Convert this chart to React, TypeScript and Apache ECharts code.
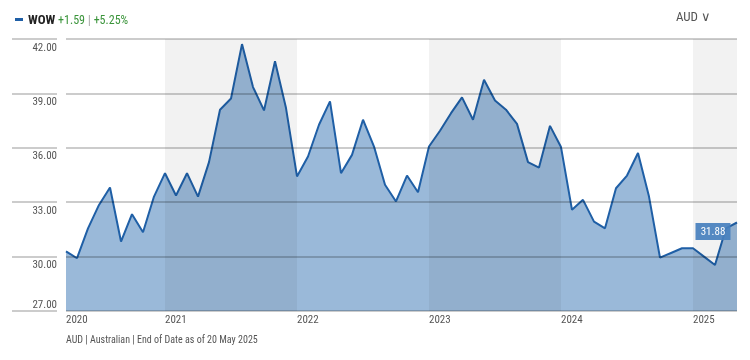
import React, { useEffect, useRef } from "react";
import * as echarts from "echarts";

const ticker = "WOW";
const change = "+1.59";
const changePct = "+5.25%";
const currency = "AUD ∨";
const footnote = "AUD | Australian | End of Date as of 20 May 2025";
const lastLabel = "31.88";

const prices2020 = [30.29, 29.91, 31.56, 32.85, 33.81, 30.83, 32.34, 31.34, 33.31];
const prices2021 = [34.6, 33.37, 34.6, 33.31, 35.21, 38.1, 38.72, 41.72, 39.35, 38.06, 40.77, 38.19];
const prices2022 = [34.42, 35.52, 37.27, 38.56, 34.6, 35.61, 37.55, 36.07, 33.96, 33.04, 34.47, 33.55];
const prices2023 = [36.07, 36.94, 37.91, 38.78, 37.55, 39.75, 38.61, 38.1, 37.32, 35.21, 34.91, 37.21];
const prices2024 = [36.04, 32.58, 33.13, 31.93, 31.56, 33.77, 34.47, 35.71, 33.31, 29.94, 30.2, 30.46];
const prices2025 = [30.46, 30.0, 29.54, 31.56, 31.88];

const prices = [...prices2020, ...prices2021, ...prices2022, ...prices2023, ...prices2024, ...prices2025];

// monthly categories starting April 2020
const months = prices.map((_, i) => {
  const m = 3 + i;
  const y = 2020 + Math.floor(m / 12);
  const mm = (m % 12) + 1;
  return `${y}-${String(mm).padStart(2, "0")}`;
});

const yMin = 27;
const yMax = 42;
const yStep = 3;

const shadedRanges: [string, string][] = [
  ["2021-01", "2022-01"],
  ["2023-01", "2024-01"],
  ["2025-01", "2025-05"],
];

const FONT = '"Liberation Sans Narrow", "Roboto Condensed", "Arial Narrow", Roboto, sans-serif';

export default function App() {
  const ref = useRef<HTMLDivElement>(null);
  useEffect(() => {
    if (!ref.current) return;
    const chart = echarts.init(ref.current, undefined, { renderer: "svg" });
    const gridLine = { show: true, lineStyle: { color: "rgba(0,0,0,0.27)", width: 1.5 } };
    const lastIdx = prices.length - 1;
    chart.setOption({
      animation: false,
      textStyle: { fontFamily: FONT },
      legend: {
        data: [ticker],
        left: 10,
        top: 8,
        icon: "rect",
        itemWidth: 8,
        itemHeight: 3,
        selectedMode: false,
        formatter: (n: string) => `{n|${n}} {g|${change}} {s||} {g|${changePct}}`,
        textStyle: {
          fontFamily: FONT,
          rich: {
            n: { fontSize: 13, color: "#222", fontWeight: "bold", fontFamily: FONT },
            g: { fontSize: 12, color: "#3a943a", fontFamily: FONT },
            s: { fontSize: 13, color: "#aaa", fontFamily: FONT },
          },
        },
      },
      grid: [
        { left: 66, right: 13, top: 39, bottom: 49 },
        { left: 12, width: 45, top: 39, bottom: 49 },
      ],
      xAxis: [
        {
          type: "category",
          data: months,
          boundaryGap: false,
          axisLine: { show: false },
          axisTick: { show: false },
          splitLine: { show: false },
          axisLabel: {
            interval: (i: number, v: string) => i === 0 || v.endsWith("-01"),
            formatter: (v: string) => v.slice(0, 4),
            align: "left",
            margin: 3,
            fontSize: 11,
            color: "#555",
            fontFamily: FONT,
          },
        },
        { type: "value", gridIndex: 1, show: false, min: 0, max: 1 },
      ],
      yAxis: [
        {
          type: "value",
          min: yMin,
          max: yMax,
          interval: yStep,
          z: 5,
          axisLine: { show: false },
          axisTick: { show: false },
          splitLine: gridLine,
          axisLabel: {
            margin: 9,
            formatter: (v: number) => (v === yMin ? `{b|${v.toFixed(2)}}` : `{a|${v.toFixed(2)}}`),
            rich: {
              a: { padding: [16, 0, 0, 0], fontSize: 11, color: "#555", fontFamily: FONT },
              b: { padding: [0, 0, 14, 0], fontSize: 11, color: "#555", fontFamily: FONT },
            },
          },
        },
        {
          type: "value",
          gridIndex: 1,
          min: yMin,
          max: yMax,
          interval: yStep,
          axisLine: { show: false },
          axisTick: { show: false },
          axisLabel: { show: false },
          splitLine: gridLine,
        },
      ],
      series: [
        {
          name: ticker,
          type: "line",
          data: prices,
          symbol: "none",
          z: 2,
          lineStyle: { color: "#1f5fa6", width: 2 },
          itemStyle: { color: "#1f5fa6" },
          areaStyle: { color: "#9ab9d9", opacity: 1 },
        },
        {
          name: "bands",
          type: "line",
          data: prices,
          symbol: "none",
          silent: true,
          z: 4,
          lineStyle: { opacity: 0 },
          markArea: {
            silent: true,
            z: 4,
            itemStyle: { color: "rgba(0,0,0,0.05)" },
            data: shadedRanges.map(([a, b]) => [{ xAxis: a }, { xAxis: b }]),
          },
        },
        {
          name: "last",
          type: "line",
          data: prices,
          symbol: "none",
          silent: true,
          z: 6,
          lineStyle: { opacity: 0 },
          markPoint: {
            silent: true,
            z: 6,
            symbol: "rect",
            symbolSize: [35, 17],
            symbolOffset: [-24, 9],
            itemStyle: { color: "rgba(72,128,190,0.92)" },
            label: {
              show: true,
              position: "inside",
              color: "#fff",
              fontSize: 11,
              fontFamily: FONT,
              formatter: () => lastLabel,
            },
            data: [{ coord: [months[lastIdx], prices[lastIdx]] }],
          },
        },
      ],
      graphic: [
        {
          type: "text",
          right: 39,
          top: 10,
          style: { text: currency, fill: "#555", fontSize: 13, fontFamily: FONT },
        },
        {
          type: "text",
          left: 66,
          top: 334,
          style: { text: footnote, fill: "#555", fontSize: 10, fontFamily: FONT },
        },
      ],
    });
    return () => chart.dispose();
  }, []);
  return <div ref={ref} style={{ position: "fixed", left: 0, top: 0, width: 750, height: 360 }} />;
}
